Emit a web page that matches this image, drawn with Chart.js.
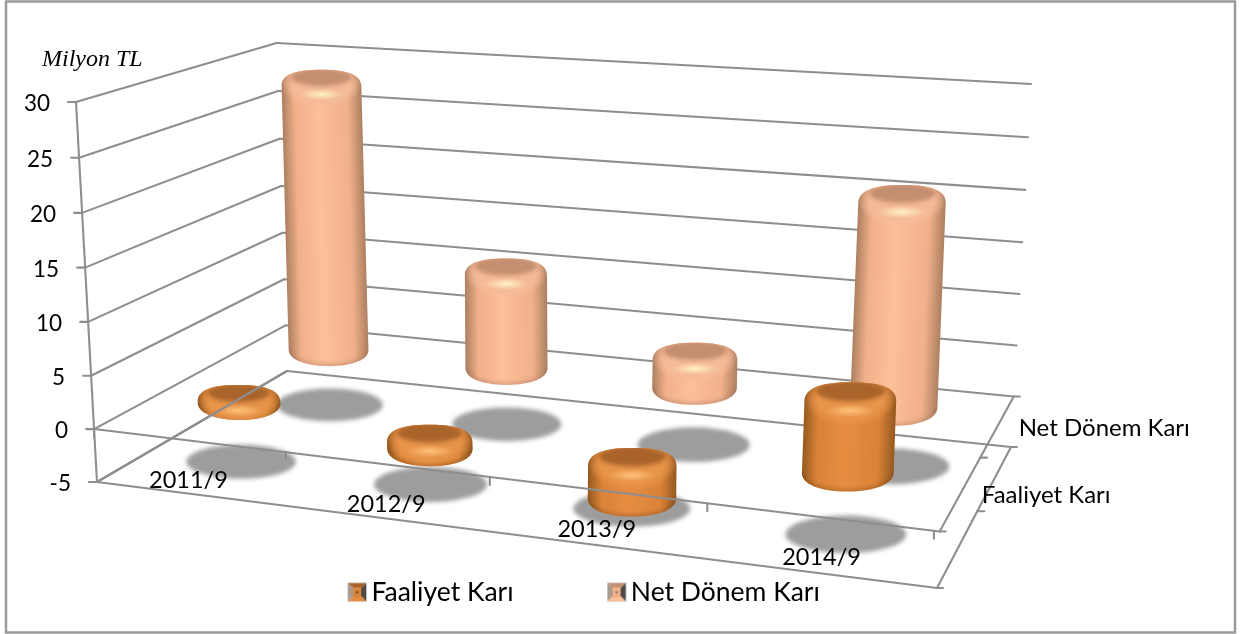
<!DOCTYPE html>
<html>
<head>
<meta charset="utf-8">
<style>
  html, body { margin: 0; padding: 0; background: #fff; }
  canvas { display: block; }
</style>
</head>
<body>
<canvas id="plotCanvas" width="1245" height="634"></canvas>
<script src="https://cdn.jsdelivr.net/npm/chart.js@4"></script>
<script>
const periods = ['2011/9', '2012/9', '2013/9', '2014/9'];
const seriesNames = ['Faaliyet Karı', 'Net Dönem Karı'];
const faaliyetKari = [0.1, -0.6, -3, 6.5];
const netDonemKari = [26.7, 9.3, 2.7, 19.5];
const yMin = -5;
const yMax = 30;
const yStep = 5;

// picture frame of the 3d box: floor corners [front left, front right, back right, back left],
// wall height at each corner, and where the uprights meet
const boxFloor = [[97, 482], [937, 588], [1011, 447], [287, 371]];
const boxHeight = [380, 406, 363, 328];
const vanishing = [554, 8743];
const columnLift = 7;

const orange = { edge: '#96591f', mid: '#d98338', light: '#e68d42', cap: '#a9642a', rim: '#e8944a', glow: '#ffc27a', low: '#7a4416' };
const peach = { edge: '#ad7f60', mid: '#f0b08a', light: '#fdbf98', cap: '#c48e70', rim: '#f5bb98', glow: '#fff0c4', low: '#a0705a' };
const shadowGrey = '#9d9d9d';
const lineGrey = '#8e8e8e';
const labelFont = '"Lato", "Open Sans", sans-serif';

function swatch(p) {
    const c = document.createElement('canvas');
    c.width = 20; c.height = 20;
    const g = c.getContext('2d');
    g.fillStyle = '#dcdcdc'; g.fillRect(0, 0, 20, 20);
    const side = (pts, col) => {
        g.fillStyle = col; g.beginPath();
        pts.forEach(q => g.lineTo(q[0], q[1]));
        g.fill();
    };
    side([[1, 1], [19, 1], [10, 10]], p.cap);
    side([[1, 1], [1, 19], [10, 10]], '#a99a8e');
    side([[19, 1], [19, 19], [10, 10]], '#4f4a46');
    side([[1, 19], [19, 19], [10, 10]], p.light);
    g.fillStyle = p.mid; g.fillRect(6, 5, 8, 10);
    g.fillStyle = p.low; g.fillRect(9, 9, 2, 2);
    return c;
}

function cornerMap(q) {
    const [[x0, y0], [x1, y1], [x2, y2], [x3, y3]] = q;
    const dx1 = x1 - x2, dx2 = x3 - x2, sx = x0 - x1 + x2 - x3;
    const dy1 = y1 - y2, dy2 = y3 - y2, sy = y0 - y1 + y2 - y3;
    const den = dx1 * dy2 - dx2 * dy1;
    const g = (sx * dy2 - dx2 * sy) / den;
    const h = (dx1 * sy - sx * dy1) / den;
    return (u, z) => {
        const w = g * u + h * z + 1;
        return [
            ((x1 - x0 + g * x1) * u + (x3 - x0 + h * x3) * z + x0) / w,
            ((y1 - y0 + g * y1) * u + (y3 - y0 + h * y3) * z + y0) / w
        ];
    };
}
const floorMap = cornerMap(boxFloor);

// u, z, t all 0..1
function project(u, z, t) {
    const f = floorMap(u, z);
    const front = boxHeight[0] + (boxHeight[1] - boxHeight[0]) * u;
    const back = boxHeight[3] + (boxHeight[2] - boxHeight[3]) * u;
    const h = front + (back - front) * z;
    const y = f[1] - h * t / (1 + 0.03 * (1 - t));
    const x = vanishing[0] + (f[0] - vanishing[0]) * (vanishing[1] - y) / (vanishing[1] - f[1]);
    return [x, y];
}

function segment(ctx, a, b) {
    ctx.beginPath();
    ctx.moveTo(a[0], a[1]);
    ctx.lineTo(b[0], b[1]);
    ctx.stroke();
}

function drawCylinder(ctx, base, top, rx, ry, p) {
    const [x0, y0] = base;
    const y1 = top[1];
    const lean = y0 === y1 ? 0 : (top[0] - x0) / (y1 - y0);
    const kt = 0.68, kb = 0.6;
    const bottomEdge = () => {
        ctx.bezierCurveTo(x0 - rx, y0 + ry * kb, x0 - rx * kb, y0 + ry, x0, y0 + ry);
        ctx.bezierCurveTo(x0 + rx * kb, y0 + ry, x0 + rx, y0 + ry * kb, x0 + rx, y0);
    };
    ctx.save();
    // lean the whole column, everything below is drawn upright around x0
    ctx.transform(1, 0, lean, 1, -lean * y0, 0);
    ctx.beginPath();
    ctx.moveTo(x0 - rx, y1);
    ctx.lineTo(x0 - rx, y0);
    bottomEdge();
    ctx.lineTo(x0 + rx, y1);
    ctx.bezierCurveTo(x0 + rx, y1 - ry * kt, x0 + rx * kt, y1 - ry, x0, y1 - ry);
    ctx.bezierCurveTo(x0 - rx * kt, y1 - ry, x0 - rx, y1 - ry * kt, x0 - rx, y1);
    ctx.closePath();
    const body = ctx.createLinearGradient(x0 - rx, 0, x0 + rx, 0);
    body.addColorStop(0, p.edge);
    body.addColorStop(0.16, p.mid);
    body.addColorStop(0.45, p.light);
    body.addColorStop(0.82, p.mid);
    body.addColorStop(1, p.edge);
    ctx.fillStyle = body;
    ctx.fill();
    ctx.clip();

    // dark rim along the bottom edge
    ctx.save();
    ctx.filter = 'blur(2px)';
    ctx.globalAlpha = 0.6;
    ctx.strokeStyle = p.low;
    ctx.lineWidth = 3;
    ctx.beginPath();
    ctx.moveTo(x0 - rx, y0);
    bottomEdge();
    ctx.stroke();
    ctx.restore();

    // rounded rim around the flat top
    ctx.save();
    ctx.translate(x0, y1 - ry * 0.1);
    ctx.scale(1, ry * 1.45 / rx);
    const rim = ctx.createRadialGradient(0, 0, 0, 0, 0, rx);
    rim.addColorStop(0, p.rim);
    rim.addColorStop(0.7, p.rim);
    rim.addColorStop(1, p.rim + '00');
    ctx.fillStyle = rim;
    ctx.beginPath();
    ctx.arc(0, 0, rx, 0, Math.PI * 2);
    ctx.fill();
    ctx.restore();

    // flat top
    ctx.save();
    ctx.filter = 'blur(2px)';
    ctx.fillStyle = p.cap;
    ctx.beginPath();
    ctx.ellipse(x0, y1 - ry * 0.55, rx * 0.76, ry * 0.55, 0, 0, Math.PI * 2);
    ctx.fill();
    ctx.restore();

    // highlight in front of the top
    ctx.save();
    ctx.translate(x0, y1 + ry * 0.5);
    ctx.scale(1, 0.26);
    const glow = ctx.createRadialGradient(0, 0, 0, 0, 0, rx * 0.55);
    glow.addColorStop(0, p.glow);
    glow.addColorStop(1, p.glow + '00');
    ctx.fillStyle = glow;
    ctx.beginPath();
    ctx.arc(0, 0, rx * 0.55, 0, Math.PI * 2);
    ctx.fill();
    ctx.restore();
    ctx.restore();
}

const box3d = {
    id: 'box3d',
    afterLayout(chart) {
        // the wide item padding leaves the legend row too far up
        const drop = 477 - chart.legend.top;
        chart.legend.top += drop;
        chart.legend.bottom += drop;
    },
    beforeDraw(chart) {
        const ctx = chart.ctx;
        ctx.save();
        ctx.strokeStyle = '#9a9a9a';
        ctx.lineWidth = 2.5;
        ctx.strokeRect(6, 1.5, 1229, 631);
        ctx.fillStyle = '#000';
        ctx.font = 'italic 24px "Liberation Serif"';
        ctx.textBaseline = 'middle';
        ctx.textAlign = 'left';
        ctx.fillText('Milyon TL', 42, 60);
        ctx.restore();
    },
    afterDatasetsDraw(chart) {
        const ctx = chart.ctx;
        const sx = chart.scales.x, sy = chart.scales.y, sz = chart.scales.z;
        const U = i => (sx.getPixelForValue(i) - sx.left) / sx.width;
        const Z = i => (sz.getPixelForValue(i) - sz.left) / sz.width;
        const T = v => (sy.bottom - sy.getPixelForValue(v)) / sy.height;
        const catHalf = 0.5 / periods.length;
        const catWidth = (i, s, t) => {
            const a = project(U(i) - catHalf, Z(s), t);
            const b = project(U(i) + catHalf, Z(s), t);
            return Math.hypot(b[0] - a[0], b[1] - a[1]);
        };

        ctx.save();
        ctx.lineCap = 'round';
        ctx.strokeStyle = lineGrey;
        ctx.lineWidth = 2.1;

        // walls
        sy.ticks.forEach(tk => {
            const t = T(tk.value);
            const fl = project(0, 0, t), bl = project(0, 1, t), br = project(1, 1, t);
            segment(ctx, [fl[0] - 8, fl[1]], fl);
            segment(ctx, fl, bl);
            segment(ctx, bl, br);
        });
        segment(ctx, project(0, 0, 0), project(0, 0, 1));

        // floor shadows
        ctx.save();
        ctx.filter = 'blur(2px)';
        ctx.fillStyle = shadowGrey;
        [1, 0].forEach(s => periods.forEach((_, i) => {
            const c = project(U(i), Z(s), 0);
            const rx = 27 + 0.15 * catWidth(i, s, 0);
            ctx.beginPath();
            ctx.ellipse(c[0], c[1], rx, rx * 0.31, 0, 0, Math.PI * 2);
            ctx.fill();
        }));
        ctx.restore();

        // columns, back row first
        [1, 0].forEach(s => {
            const values = chart.data.datasets[s].data;
            const pal = s === 0 ? orange : peach;
            values.forEach((v, i) => {
                const zero = project(U(i), Z(s), T(0));
                const end = project(U(i), Z(s), T(v));
                const rx = 19 + 0.12 * catWidth(i, s, T(0));
                const ry = rx * 0.41;
                zero[1] -= columnLift;
                end[1] -= columnLift;
                if (v >= 0) {
                    drawCylinder(ctx, zero, end, rx, ry, pal);
                } else {
                    // a column below zero hangs under the zero level
                    zero[1] += ry;
                    end[1] += ry;
                    drawCylinder(ctx, end, zero, rx, ry, pal);
                }
            });
        });

        // front edges sit on top of the columns
        [T(0), T(yMin)].forEach(t => {
            const fl = project(0, 0, t), fr = project(1, 0, t), br = project(1, 1, t);
            segment(ctx, fl, fr);
            segment(ctx, fr, br);
            segment(ctx, [fr[0], fr[1]], [fr[0] + 6, fr[1]]);
            segment(ctx, [br[0], br[1]], [br[0] + 6, br[1]]);
            const mid = project(1, 0.5, t);
            segment(ctx, mid, [mid[0] + 7, mid[1]]);
        });
        periods.forEach((_, i) => {
            const p = project(U(i) + catHalf - (i === 3 ? 0.006 : 0), 0, T(0));
            segment(ctx, p, [p[0], p[1] + 8]);
        });
        const zero = project(0, 0, T(0));
        segment(ctx, zero, [zero[0], zero[1] + 8]);
        segment(ctx, project(0, 0, T(yMin)), project(0, 1, T(yMin)));

        // tick labels
        ctx.fillStyle = '#000';
        ctx.textBaseline = 'middle';
        ctx.font = '22.5px ' + labelFont;
        ctx.textAlign = 'right';
        sy.ticks.forEach(tk => {
            const p = project(0, 0, T(tk.value));
            ctx.fillText(tk.label, p[0] - 26, p[1] + 2);
        });
        ctx.textAlign = 'center';
        ctx.font = '23.5px ' + labelFont;
        periods.forEach((lab, i) => {
            const p = project(U(i), 0, T(0));
            ctx.fillText(lab, p[0], p[1] + 40);
        });
        ctx.textAlign = 'left';
        ctx.font = '24px ' + labelFont;
        seriesNames.forEach((lab, s) => {
            const p = project(1, Z(s), T(0));
            ctx.fillText(lab, p[0] + 21, p[1] + 3);
        });
        ctx.restore();
    }
};

const ctx = document.getElementById('plotCanvas');
const chart = new Chart(ctx, {
    type: 'bar',
    data: {
        labels: periods,
        datasets: [
            { label: seriesNames[0], data: faaliyetKari, backgroundColor: 'rgba(0,0,0,0)' },
            { label: seriesNames[1], data: netDonemKari, backgroundColor: 'rgba(0,0,0,0)' }
        ]
    },
    options: {
        responsive: false,
        animation: false,
        layout: { padding: { right: 69 } },
        scales: {
            x: { display: false },
            y: { display: false, min: yMin, max: yMax, ticks: { stepSize: yStep } },
            z: { type: 'category', axis: 'x', labels: seriesNames, offset: true, display: false }
        },
        plugins: {
            tooltip: { enabled: false },
            legend: {
                position: 'bottom',
                labels: {
                    color: '#000',
                    font: { family: labelFont, size: 26.5 },
                    padding: 102,
                    usePointStyle: true,
                    pointStyleWidth: 2,
                    generateLabels: () => [orange, peach].map((p, i) => ({
                        text: seriesNames[i],
                        pointStyle: swatch(p),
                        fillStyle: p.mid,
                        fontColor: '#000',
                        lineWidth: 0,
                        datasetIndex: i
                    }))
                }
            }
        }
    },
    plugins: [box3d]
});
</script>
</body>
</html>
